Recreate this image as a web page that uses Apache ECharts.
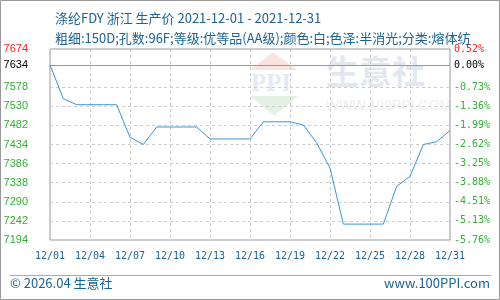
<!DOCTYPE html>
<html>
<head>
<meta charset="utf-8">
<script src="https://cdn.jsdelivr.net/npm/echarts@6/dist/echarts.min.js"></script>
<style>html,body{margin:0;padding:0;background:#fff}#c{width:500px;height:300px}</style>
</head>
<body>
<div id="c"></div>
<script>
const dates = ['12/01','12/02','12/03','12/04','12/05','12/06','12/07','12/08','12/09','12/10',
  '12/11','12/12','12/13','12/14','12/15','12/16','12/17','12/18','12/19','12/20',
  '12/21','12/22','12/23','12/24','12/25','12/26','12/27','12/28','12/29','12/30','12/31'];
const prices = [7634,7549,7534,7534,7534,7534,7452,7434,7478,7478,
  7478,7478,7448,7448,7448,7448,7491,7491,7491,7483,
  7438,7375,7234,7234,7234,7234,7329,7354,7434,7441,7469];
const leftTicks = [7194,7242,7290,7338,7386,7434,7482,7530,7578,7634,7674];
const rightTickLabels = ['-5.76%','-5.13%','-4.51%','-3.88%','-3.25%','-2.62%','-1.99%','-1.36%','-0.73%','0.00%','0.52%'];
const basePrice = 7634;
const titleLine1 = '涤纶FDY 浙江 生产价 2021-12-01 - 2021-12-31';
const titleLine2 = '粗细:150D;孔数:96F;等级:优等品(AA级);颜色:白;色泽:半消光;分类:熔体纺';

const blue = '#1b6395';
const chart = echarts.init(document.getElementById('c'), null, {renderer:'canvas'});
function tickKind(v){ return v > basePrice ? 'r' : (v === basePrice ? 'k' : 'g'); }
chart.setOption({
  animation:false,
  title:[
    {text:titleLine1,left:50,top:7,textStyle:{fontSize:13,fontWeight:'normal',color:blue,fontFamily:'Noto Sans CJK SC'}},
    {text:titleLine2,left:50,top:27,textStyle:{fontSize:13,fontWeight:'normal',color:blue,fontFamily:'Noto Sans CJK SC'}}
  ],
  graphic:[
    {type:'rect',shape:{x:0.5,y:0.5,width:499,height:299},style:{fill:'none',stroke:'#999',lineWidth:1},silent:true},
    {type:'line',shape:{x1:10,y1:275.5,x2:491,y2:275.5},style:{stroke:'#aaa',lineWidth:1},silent:true},
    {type:'text',left:10,top:277,style:{text:'© 2026.04 生意社',fontSize:13,fill:blue,fontFamily:'Noto Sans CJK SC'}},
    {type:'text',right:10,top:277,style:{text:'www.100PPI.com',fontSize:13,fill:blue,fontFamily:'Noto Sans CJK SC'}},
    {type:'polygon',shape:{points:[[250,70],[273,52],[297,70]]},style:{fill:'#fbe3e0'},silent:true,z:-1},
    {type:'text',x:251,y:72,style:{text:'PPI',fontSize:25,fontWeight:'bold',fill:'#e4e9f3',fontFamily:'Liberation Serif'},silent:true,z:-1},
    {type:'polygon',shape:{points:[[250,96],[298,96],[274,116]]},style:{fill:'#e3f1e3'},silent:true,z:-1},
    {type:'text',x:326,y:55,style:{text:'生意社',fontSize:33,fill:'#e3e7ef',fontFamily:'Noto Sans CJK SC',fontWeight:'bold'},silent:true,z:-1},
    {type:'text',x:326,y:99,style:{text:'WWW.100PPI.COM',fontSize:14,fill:'#eeeeee',fontFamily:'Liberation Sans'},silent:true,z:-1}
  ],
  grid:{left:50,right:50,top:49,bottom:60,show:true,borderColor:'#999',borderWidth:1,backgroundColor:'transparent'},
  xAxis:{type:'category',data:dates,boundaryGap:false,
    axisLine:{show:false},axisTick:{show:false},
    axisLabel:{interval:2,margin:11,color:blue,fontSize:10,fontFamily:'DejaVu Sans Mono'},
    splitLine:{show:true,interval:2,lineStyle:{color:'#ccc',type:[3,3]}}},
  yAxis:[
    {type:'value',min:7194,max:7674,position:'left',
      axisLine:{show:false},axisTick:{show:false,customValues:leftTicks},
      axisLabel:{customValues:leftTicks,margin:22,fontSize:11,fontFamily:'Liberation Sans',
        formatter:v=>'{'+tickKind(v)+'|'+v+'}',
        rich:{r:{color:'#ff2020',fontSize:11,fontFamily:'Liberation Sans'},k:{color:'#000',fontSize:11,fontFamily:'Liberation Sans'},g:{color:'#33b033',fontSize:11,fontFamily:'Liberation Sans'}}},
      splitLine:{show:true,lineStyle:{color:'#ccc',type:[3,3]}}},
    {type:'value',min:7194,max:7674,position:'right',
      axisLine:{show:false},axisTick:{show:false,customValues:leftTicks},
      axisLabel:{customValues:leftTicks,margin:4,fontSize:10,fontFamily:'DejaVu Sans Mono',
        formatter:v=>'{'+tickKind(v)+'|'+rightTickLabels[leftTicks.indexOf(v)]+'}',
        rich:{r:{color:'#ff2020',fontSize:10,fontFamily:'DejaVu Sans Mono'},k:{color:'#000',fontSize:10,fontFamily:'DejaVu Sans Mono'},g:{color:'#33b033',fontSize:10,fontFamily:'DejaVu Sans Mono'}}},
      splitLine:{show:false}}
  ],
  series:[{type:'line',data:prices,yAxisIndex:0,showSymbol:false,symbol:'none',
    lineStyle:{color:'#3a94d6',width:1},itemStyle:{color:'#3a94d6'},
    markLine:{silent:true,symbol:'none',label:{show:false},animation:false,
      lineStyle:{color:'#999',type:'solid',width:1},data:[{yAxis:basePrice}]}}]
});
</script>
</body>
</html>
